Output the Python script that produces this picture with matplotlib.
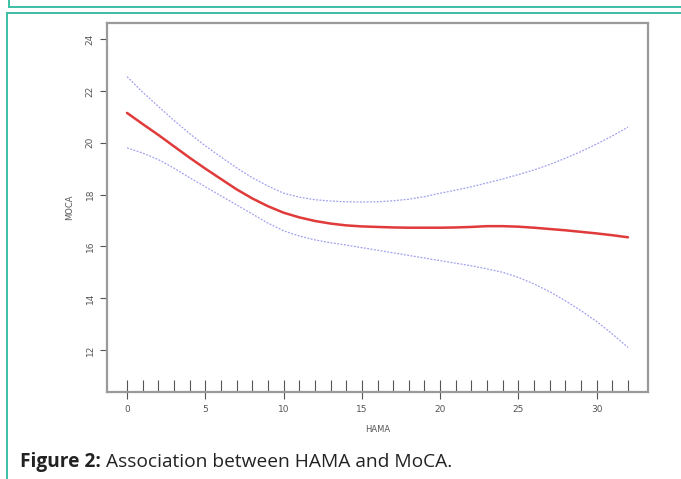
import matplotlib
matplotlib.use("Agg")
import matplotlib.pyplot as plt
from matplotlib.lines import Line2D

hama = list(range(0, 33))
fit = [21.15, 20.72, 20.3, 19.86, 19.42, 19.0, 18.6, 18.2, 17.85, 17.55, 17.3,
       17.12, 16.98, 16.88, 16.81, 16.77, 16.75, 16.73, 16.72, 16.72, 16.72,
       16.73, 16.75, 16.78, 16.78, 16.76, 16.72, 16.67, 16.62, 16.56, 16.5, 16.43, 16.35]
upper = [22.55, 21.95, 21.4, 20.86, 20.35, 19.88, 19.45, 19.03, 18.65, 18.33, 18.05,
         17.9, 17.8, 17.75, 17.72, 17.71, 17.72, 17.76, 17.82, 17.92, 18.05,
         18.17, 18.3, 18.45, 18.6, 18.77, 18.95, 19.16, 19.4, 19.66, 19.95, 20.26, 20.6]
lower = [19.8, 19.6, 19.35, 19.02, 18.65, 18.3, 17.95, 17.6, 17.25, 16.9, 16.6,
         16.4, 16.25, 16.14, 16.05, 15.95, 15.85, 15.75, 15.65, 15.55, 15.45,
         15.35, 15.25, 15.13, 15.0, 14.8, 14.55, 14.25, 13.9, 13.52, 13.1, 12.62, 12.1]
rug_x = list(range(0, 33))
x_ticks = [0, 5, 10, 15, 20, 25, 30]
y_ticks = [12, 14, 16, 18, 20, 22, 24]

fig = plt.figure(figsize=(6.81, 4.79), dpi=100)
W, H = 681, 479

teal = "#3dbfa5"
fig.add_artist(Line2D([9/W, 1.0], [1-6.5/H, 1-6.5/H], color=teal, lw=1.4, transform=fig.transFigure))
fig.add_artist(Line2D([9/W, 9/W], [1-6.5/H, 1.0], color=teal, lw=1.4, transform=fig.transFigure))
fig.add_artist(Line2D([7/W, 1.0], [1-12.5/H, 1-12.5/H], color=teal, lw=1.4, transform=fig.transFigure))
fig.add_artist(Line2D([7/W, 7/W], [0, 1-12.5/H], color=teal, lw=1.4, transform=fig.transFigure))

ax = fig.add_axes([107/W, 1-392/H, (648-107)/W, (392-23)/H])

ax.plot(hama, upper, color="#a0a0f0", lw=0.9, ls=(0, (1.5, 1.2)))
ax.plot(hama, lower, color="#a0a0f0", lw=0.9, ls=(0, (1.5, 1.2)))
ax.plot(hama, fit, color="#e03a3a", lw=1.8, solid_capstyle="round", solid_joinstyle="round")

ax.set_xlim(-1.28, 33.28)
ax.set_ylim(10.38, 24.62)

ax.vlines(rug_x, 0, 0.033, transform=ax.get_xaxis_transform(), color="#555555", lw=0.8)

for s in ax.spines.values():
    s.set_color("#9a9a9a")
    s.set_linewidth(1.6)

ax.set_xticks(x_ticks)
ax.set_yticks(y_ticks)
ax.set_xticklabels([str(v) for v in x_ticks], fontsize=6.5, color="#555555")
ax.set_yticklabels([str(v) for v in y_ticks], fontsize=6.5, color="#555555", rotation=90, va="center")
ax.tick_params(axis="both", length=5, width=0.8, color="#555555", direction="out", pad=4)
ax.set_xlabel("HAMA", fontsize=6, color="#555555", labelpad=8)
ax.set_ylabel("MOCA", fontsize=6, color="#555555", labelpad=8)

fig.text(20/W, 1-462/H, "Figure 2:", fontsize=13.8, fontweight="bold", family=["Open Sans", "DejaVu Sans"],
         color="#222222", va="center", ha="left")
fig.text(106/W, 1-462/H, "Association between HAMA and MoCA.", fontsize=13.8, family=["Open Sans", "DejaVu Sans"],
         color="#222222", va="center", ha="left")

fig.savefig("out.png", dpi=100)
